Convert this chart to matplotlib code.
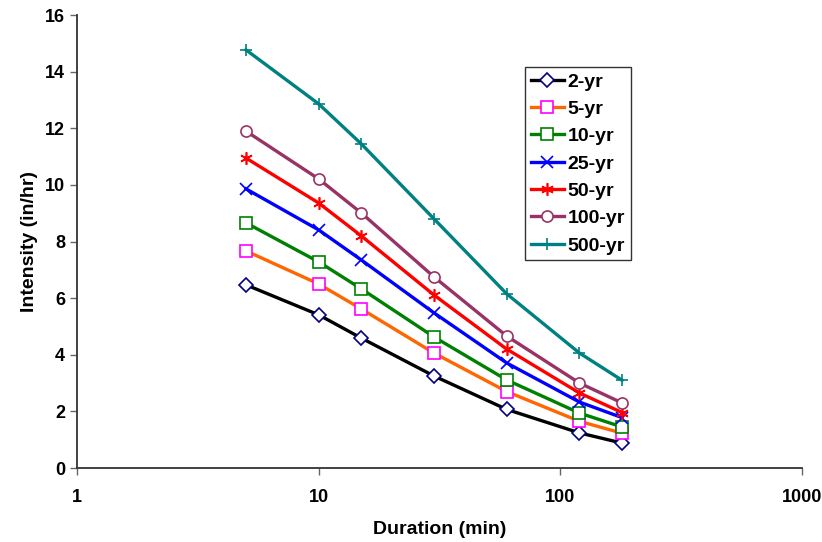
import matplotlib
matplotlib.use("Agg")
import matplotlib.pyplot as plt
from matplotlib.ticker import FixedLocator, FixedFormatter, NullLocator

plt.rcParams['font.family'] = ['Liberation Sans', 'DejaVu Sans']
plt.rcParams['font.weight'] = 'bold'

# Durations (min)
duration = [5, 10, 15, 30, 60, 120, 180]

# Intensity (in/hr) per return period
i_2yr = [6.47, 5.41, 4.59, 3.25, 2.07, 1.24, 0.88]
i_5yr = [7.67, 6.50, 5.62, 4.06, 2.70, 1.65, 1.23]
i_10yr = [8.66, 7.28, 6.33, 4.63, 3.11, 1.94, 1.45]
i_25yr = [9.86, 8.41, 7.35, 5.48, 3.71, 2.33, 1.78]
i_50yr = [10.95, 9.36, 8.20, 6.11, 4.20, 2.65, 1.96]
i_100yr = [11.90, 10.21, 9.01, 6.75, 4.66, 3.00, 2.30]
i_500yr = [14.77, 12.86, 11.45, 8.80, 6.15, 4.06, 3.10]

labels = ['2-yr', '5-yr', '10-yr', '25-yr', '50-yr', '100-yr', '500-yr']
x_ticks = [1, 10, 100, 1000]
y_ticks = [0, 2, 4, 6, 8, 10, 12, 14, 16]

series = [i_2yr, i_5yr, i_10yr, i_25yr, i_50yr, i_100yr, i_500yr]
# (line color, marker, marker edge color, marker size)
styles = [
    ('#000000', 'D', '#000080', 7.5),
    ('#FF6600', 's', '#FF00FF', 8),
    ('#008000', 's', '#008000', 8),
    ('#0000FF', 'x', '#0000FF', 8),
    ('#FF0000', (6, 2, 0), '#FF0000', 9),
    ('#993366', 'o', '#993366', 8),
    ('#008080', '+', '#008080', 9),
]

fig = plt.figure(figsize=(8.22, 5.42), dpi=100)
ax = fig.add_axes([0.0937, 0.1365, 0.882, 0.8358])

for vals, lab, (lc, mk, mc, ms) in zip(series, labels, styles):
    ax.plot(duration, vals, color=lc, lw=2.4, marker=mk, ms=ms,
            mfc='white' if mk in ('D', 's', 'o') else mc, mec=mc,
            mew=1.2, label=lab)

ax.set_xscale('log')
ax.set_xlim(1, 1000)
ax.set_ylim(0, 16)
ax.xaxis.set_major_locator(FixedLocator(x_ticks))
ax.xaxis.set_major_formatter(FixedFormatter([str(t) for t in x_ticks]))
ax.xaxis.set_minor_locator(NullLocator())
ax.set_yticks(y_ticks)

for s in ('top', 'right'):
    ax.spines[s].set_visible(False)
for s in ('left', 'bottom'):
    ax.spines[s].set_linewidth(1.3)
    ax.spines[s].set_color('#333333')

ax.tick_params(axis='both', direction='out', length=5, width=1,
               color='#666666', labelsize=13)
ax.tick_params(axis='x', pad=10)

ax.set_xlabel('Duration (min)', fontsize=14, fontweight='bold', labelpad=11)
ax.set_ylabel('Intensity (in/hr)', fontsize=14, fontweight='bold', labelpad=5)

leg = ax.legend(loc='upper left', bbox_to_anchor=(0.618, 0.885),
                borderaxespad=0,
                prop={'weight': 'bold', 'size': 14}, frameon=True,
                fancybox=False, handlelength=1.7, borderpad=0.3,
                labelspacing=0.5, handletextpad=0.2)
leg.get_frame().set_edgecolor('black')
leg.get_frame().set_linewidth(1)

fig.savefig('out.png', dpi=100)
